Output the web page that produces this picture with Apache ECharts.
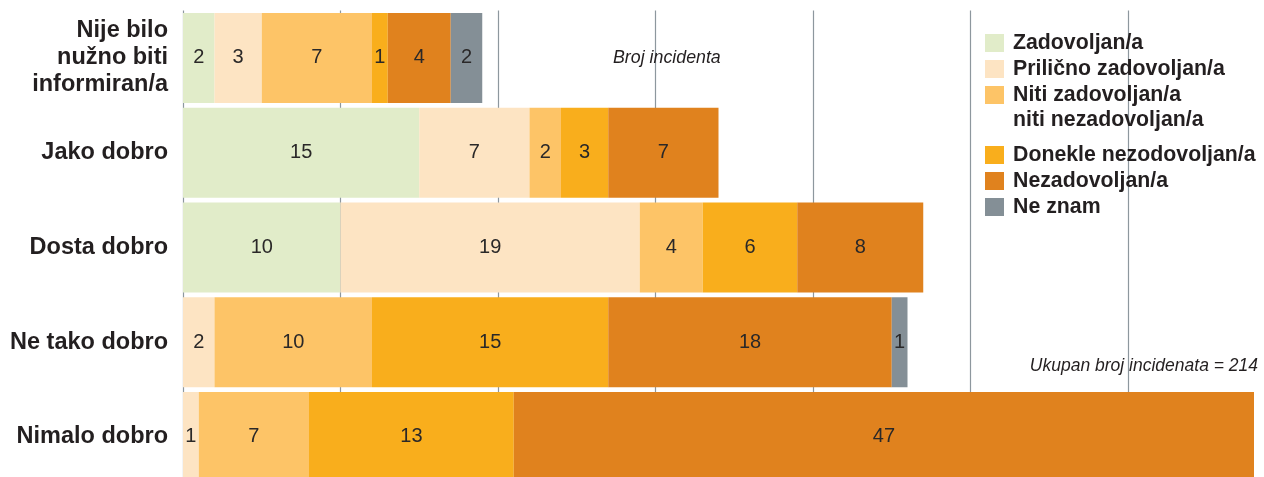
<!DOCTYPE html>
<html>
<head>
<meta charset="utf-8">
<script src="https://cdn.jsdelivr.net/npm/echarts@6/dist/echarts.min.js"></script>
<style>
  html, body { margin: 0; padding: 0; background: #fff; }
  #chart { width: 1264px; height: 477px; }
</style>
</head>
<body>
<div id="chart"></div>
<script>
// Kategorije (odgovori o informiranosti)
const categories = [
  'Nije bilo\nnužno biti\ninformiran/a',
  'Jako dobro',
  'Dosta dobro',
  'Ne tako dobro',
  'Nimalo dobro'
];

// Razine zadovoljstva
const seriesNames = [
  'Zadovoljan/a',
  'Prilično zadovoljan/a',
  'Niti zadovoljan/a\nniti nezadovoljan/a',
  'Donekle nezodovoljan/a',
  'Nezadovoljan/a',
  'Ne znam'
];
const seriesColors = ['#e1ecc9', '#fde4c3', '#fdc467', '#f9ae1c', '#e0821e', '#848f96'];

// Broj incidenata po kategoriji, jedan niz po razini zadovoljstva
const zadovoljan   = [2, 15, 10, 0, 0];
const prilicno     = [3, 7, 19, 2, 1];
const niti         = [7, 2, 4, 10, 7];
const donekle      = [1, 3, 6, 15, 13];
const nezadovoljan = [4, 7, 8, 18, 47];
const neZnam       = [2, 0, 0, 1, 0];
const values = [zadovoljan, prilicno, niti, donekle, nezadovoljan, neZnam];

const axisMax = 68;
const axisStep = 10;

const FONT = '"Liberation Sans", Arial, Helvetica, sans-serif';
const TEXT = '#231f20';

const chart = echarts.init(document.getElementById('chart'));

const series = seriesNames.map((name, i) => ({
  name: name,
  type: 'bar',
  stack: 'ukupno',
  barWidth: 90,
  data: values[i],
  itemStyle: { color: seriesColors[i] },
  label: {
    show: true,
    position: 'inside',
    color: '#2a2828',
    fontFamily: FONT,
    fontSize: 20,
    formatter: p => (p.value ? String(p.value) : '')
  },
  emphasis: { disabled: true }
}));

// Legenda desno, crtana kao grafički elementi
const legendRows = [43, 69, 95, 155, 181, 207];
const legendGraphics = [];
seriesNames.forEach((name, i) => {
  legendGraphics.push({
    type: 'rect',
    left: 985,
    top: legendRows[i] - 9,
    shape: { width: 19, height: 18 },
    style: { fill: seriesColors[i] },
    z: 100
  });
  legendGraphics.push({
    type: 'text',
    left: 1013,
    top: legendRows[i] - 12,
    style: {
      text: name,
      fill: TEXT,
      font: 'bold 21.3px ' + FONT,
      lineHeight: 25
    },
    z: 100
  });
});

chart.setOption({
  animation: false,
  grid: {
    left: 183,
    right: 10,
    top: 10.6,
    height: 473.75,
    containLabel: false,
    outerBoundsMode: 'none'
  },
  xAxis: {
    type: 'value',
    min: 0,
    max: axisMax,
    interval: axisStep,
    axisLine: { show: false },
    axisTick: { show: false },
    axisLabel: { show: false },
    splitLine: {
      show: true,
      showMaxLine: false,
      lineStyle: { color: '#8d979e', width: 1.2 }
    }
  },
  yAxis: {
    type: 'category',
    inverse: true,
    data: categories,
    axisLine: { show: false },
    axisTick: { show: false },
    axisLabel: {
      margin: 15,
      color: TEXT,
      fontFamily: FONT,
      fontWeight: 'bold',
      fontSize: 23.5,
      lineHeight: 27
    }
  },
  series: series,
  graphic: legendGraphics.concat([
    {
      type: 'text',
      left: 613,
      top: 49,
      style: { text: 'Broj incidenta', fill: TEXT, font: 'italic 17.8px ' + FONT },
      z: 100
    },
    {
      type: 'text',
      right: 6,
      top: 357,
      style: { text: 'Ukupan broj incidenata = 214', fill: TEXT, font: 'italic 17.5px ' + FONT },
      z: 100
    }
  ])
});
</script>
</body>
</html>
